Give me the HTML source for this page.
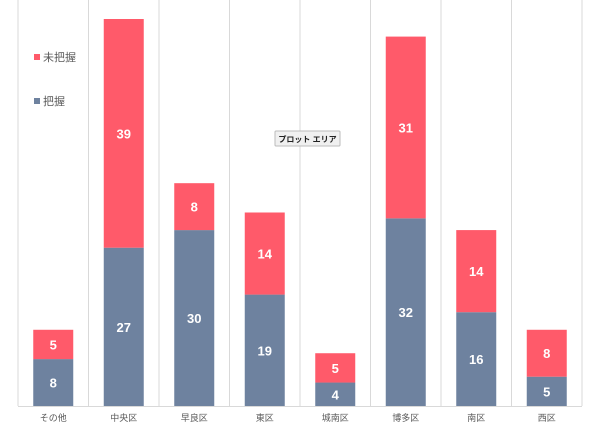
<!DOCTYPE html>
<html><head><meta charset="utf-8"><style>
body{margin:0;background:#fff;}
svg{display:block;font-family:"Liberation Sans","Noto Sans CJK JP",sans-serif;}
</style></head><body>
<svg id="chart" width="600" height="432">
<g id="grid"></g>
<g id="bars"></g>
<g id="xlabels"></g>
<g>
<g><rect x="34" y="54" width="6" height="6" fill="#FF5A6A"/><text x="43" y="61" font-size="11" fill="#595959">未把握</text></g>
<g><rect x="34" y="98" width="6" height="6" fill="#6E829F"/><text x="43" y="105" font-size="11" fill="#595959">把握</text></g>
</g>
<g>
<rect x="275" y="131" width="65" height="15" fill="#f0f0f0" stroke="#bbb" rx="1"/>
<text x="307.5" y="142" font-size="8" font-weight="bold" text-anchor="middle" fill="#222">プロット エリア</text>
</g>
</svg>
<script>
const categories=["その他","中央区","早良区","東区","城南区","博多区","南区","西区"];
const known=[8,27,30,19,4,32,16,5];
const unknown=[5,39,8,14,5,31,14,8];
const NS="http://www.w3.org/2000/svg";
const x0=18,step=70.5,base=406,plotTop=19,maxV=66,bw=40;
const y=v=>base-v*(base-plotTop)/maxV;
const cx=i=>x0+step*(i+0.5);
function mk(t,a,p){const e=document.createElementNS(NS,t);for(const k in a)e.setAttribute(k,a[k]);p.appendChild(e);return e;}
const grid=document.getElementById('grid'),bars=document.getElementById('bars'),xl=document.getElementById('xlabels');
for(let i=0;i<=categories.length;i++){
const l=mk('line',{x1:x0+step*i,x2:x0+step*i,y1:0,y2:base,stroke:'#d9d9d9','stroke-width':1},grid);


}
const ax=mk('line',{x1:x0,x2:x0+step*categories.length,y1:base+0.5,y2:base+0.5,stroke:'#d9d9d9'},grid);


categories.forEach((c,i)=>{
const xc=cx(i);
const yk=y(known[i]),yu=y(known[i]+unknown[i]);
const b1=mk('rect',{x:xc-bw/2,y:yk,width:bw,height:base-yk,fill:'#6E829F'},bars);


const b2=mk('rect',{x:xc-bw/2,y:yu,width:bw,height:yk-yu,fill:'#FF5A6A'},bars);


const t1=mk('text',{x:xc,y:(yk+base)/2+5,'font-size':13,'font-weight':'bold',fill:'#fff','text-anchor':'middle'},bars);
t1.textContent=known[i];


const t2=mk('text',{x:xc,y:(yu+yk)/2+5,'font-size':13,'font-weight':'bold',fill:'#fff','text-anchor':'middle'},bars);
t2.textContent=unknown[i];


const tl=mk('text',{x:xc,y:421,'font-size':9,fill:'#595959','text-anchor':'middle'},xl);
tl.textContent=c;


});
</script>
</body></html>
